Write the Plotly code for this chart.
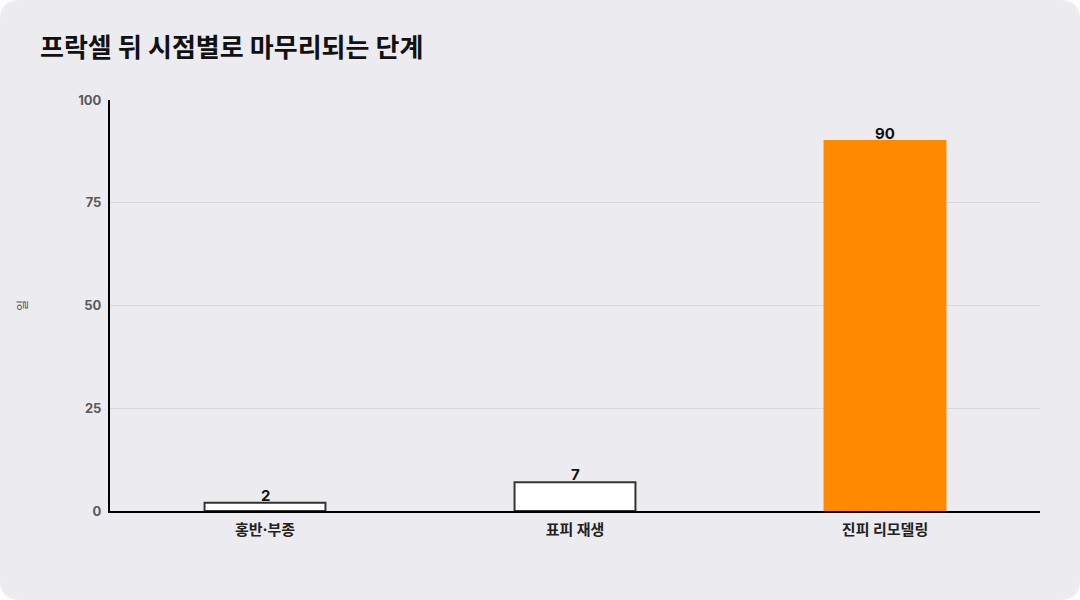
import plotly.graph_objects as go

categories = ["홍반·부종", "표피 재생", "진피 리모델링"]
days = [2, 7, 90]
fill_colors = ["#FFFFFF", "#FFFFFF", "#FF8A00"]
line_colors = ["#333333", "#333333", "#FF8A00"]
y_ticks = [0, 25, 50, 75, 100]

title_text = "프락셀 뒤 시점별로 마무리되는 단계"
y_title = "일"

FONT = "Inter, 'Noto Sans CJK KR', sans-serif"
BG = "#ECEBF0"

W, H = 1080, 600
ml, mr, mt, mb = 110, 40, 100, 89
pw, ph = W - ml - mr, H - mt - mb

fig = go.Figure()
fig.add_trace(go.Bar(
    x=categories, y=days, width=0.39,
    marker=dict(color=fill_colors, line=dict(color=line_colors, width=2)),
    hoverinfo="skip",
))

for c, v in zip(categories, days):
    fig.add_annotation(x=c, y=v, text=f"<b>{v}</b>", showarrow=False,
                       yanchor="bottom", yshift=-4,
                       font=dict(family=FONT, size=15, color="#111111"))

# rounded page background
x0, x1 = -ml / pw, 1 + mr / pw
y0, y1 = -mb / ph, 1 + mt / ph
r = 20
rx, ry = r / pw, r / ph
path = (f"M {x0+rx},{y0} L {x1-rx},{y0} Q {x1},{y0} {x1},{y0+ry} "
        f"L {x1},{y1-ry} Q {x1},{y1} {x1-rx},{y1} "
        f"L {x0+rx},{y1} Q {x0},{y1} {x0},{y1-ry} "
        f"L {x0},{y0+ry} Q {x0},{y0} {x0+rx},{y0} Z")
fig.add_shape(type="path", path=path, xref="paper", yref="paper",
              fillcolor=BG, line=dict(width=0), layer="below")

fig.update_layout(
    width=W, height=H,
    margin=dict(l=ml, r=mr, t=mt, b=mb, autoexpand=False),
    paper_bgcolor="#FFFFFF", plot_bgcolor="rgba(0,0,0,0)",
    title=dict(text=f"<b>{title_text}</b>", x=40 / W, xanchor="left",
               y=1 - 48 / H, yanchor="middle",
               font=dict(family=FONT, size=26, color="#111111")),
    showlegend=False,
    font=dict(family=FONT),
)
fig.update_xaxes(
    showline=True, linecolor="#000000", linewidth=2,
    showgrid=False, ticks="", automargin=False, ticklabelstandoff=4,
    tickfont=dict(family=FONT, size=15, color="#222222", weight="bold"),
)
fig.update_yaxes(
    range=[0, 100], tickvals=y_ticks, ticktext=[str(t) for t in y_ticks],
    showline=True, linecolor="#000000", linewidth=2,
    showgrid=True, gridcolor="#D8D7DD", gridwidth=1,
    zeroline=False, ticks="", ticklabelstandoff=4, automargin=False,
    tickfont=dict(family=FONT, size=13, color="#5A5A5A", weight="bold"),
    title=dict(text=y_title, standoff=48,
               font=dict(family=FONT, size=12, color="#555555")),
)

fig.write_html("out.html", config={"displayModeBar": False},
               post_script="document.body.style.margin='0';document.body.style.overflow='hidden';")
